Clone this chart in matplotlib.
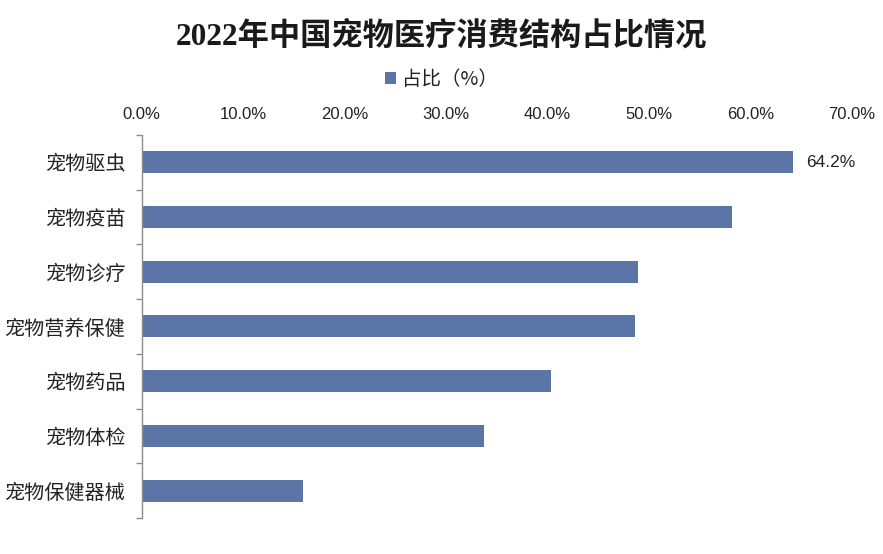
import matplotlib
matplotlib.use("Agg")
import matplotlib.pyplot as plt
from matplotlib.ticker import FuncFormatter, FixedLocator

plt.rcParams['font.family'] = ['Noto Sans CJK SC', 'DejaVu Sans']

# data
categories = ["宠物驱虫", "宠物疫苗", "宠物诊疗", "宠物营养保健",
              "宠物药品", "宠物体检", "宠物保健器械"]
shares = [64.2, 58.2, 48.9, 48.6, 40.3, 33.7, 15.9]
x_ticks = [0, 10, 20, 30, 40, 50, 60, 70]
labelled = {0: "64.2%"}

bar_color = "#5b76a6"
axis_color = "#8c8c8c"

fig = plt.figure(figsize=(8.83, 5.54), dpi=100)
ax = fig.add_axes([0.1605, 0.065, 0.8045, 0.6915])

ypos = list(range(len(categories)))
ax.barh(ypos, shares, height=0.4, color=bar_color, label="占比（%）")
ax.set_ylim(len(categories) - 0.5, -0.5)
ax.set_xlim(0, 70)

# value label only on the top bar
for i, txt in labelled.items():
    ax.annotate(txt, (shares[i], ypos[i]), xytext=(9, 0),
                textcoords="offset points", va="center", ha="left",
                fontsize=12.5, color="#222222", family=["Liberation Sans", "DejaVu Sans"])

# x axis on top, labels only
ax.xaxis.tick_top()
ax.xaxis.set_major_locator(FixedLocator(x_ticks))
ax.xaxis.set_major_formatter(FuncFormatter(lambda v, p: f"{v:.1f}%"))
ax.tick_params(axis="x", length=0, pad=9, labelsize=12, labelcolor="#222222")
for lab in ax.get_xticklabels():
    lab.set_family(["Liberation Sans", "DejaVu Sans"])

# category axis: labels centred, ticks on boundaries
ax.set_yticks(ypos)
ax.set_yticklabels(categories, fontsize=14.5, color="#222222")
ax.set_yticks([y + 0.5 for y in range(-1, len(categories))], minor=True)
ax.tick_params(axis="y", which="major", length=0, pad=12)
ax.tick_params(axis="y", which="minor", length=4, width=1, color=axis_color, direction="out")

for side in ["top", "right", "bottom"]:
    ax.spines[side].set_visible(False)
ax.spines["left"].set_color(axis_color)
ax.spines["left"].set_linewidth(1)

fig.text(0.5, 0.935, "2022年中国宠物医疗消费结构占比情况",
         ha="center", va="center", fontsize=22.5, fontweight="bold",
         family=["Liberation Serif", "Noto Sans CJK SC"], color="#1a1a1a")

fig.legend(loc="center", bbox_to_anchor=(0.5, 0.857), frameon=False,
           fontsize=14, handlelength=0.6, handleheight=0.6, handletextpad=0.3,
           labelcolor="#222222")

fig.savefig("out.png", dpi=100, facecolor="white")
